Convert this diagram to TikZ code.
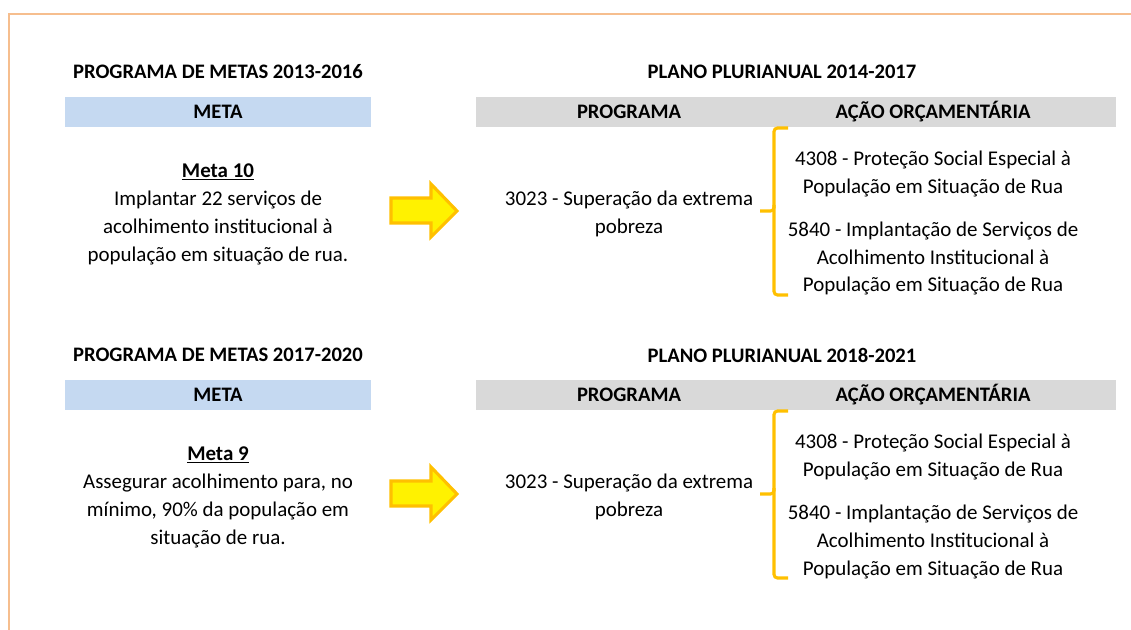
\documentclass[tikz,border=0pt]{standalone}
\usepackage{fontspec}
\setmainfont{Carlito}
\usepackage{tikz}
\definecolor{moldura}{RGB}{246,190,142}
\definecolor{azulmeta}{RGB}{197,217,241}
\definecolor{cinzappa}{RGB}{217,217,217}
\definecolor{ouro}{RGB}{255,192,0}
\tikzset{
  txt/.style={font=\fontsize{14.9}{19.9}\selectfont, align=center, inner sep=0pt},
  titulo/.style={font=\fontsize{14.65}{19.9}\selectfont\bfseries, inner sep=0pt},
  seta/.style={fill=yellow, draw=ouro, line width=2.2pt, line join=miter},
  chave/.style={draw=ouro, line width=2.2pt, rounded corners=2.5pt}
}

\begin{document}
\begin{tikzpicture}[x=0.025cm,y=-0.025cm]
        \useasboundingbox (0,0) rectangle (1131,630);
        \draw[moldura,line width=1.3pt] (9,630)--(9,14)--(1131,14);
        % bloco 2013-2016
        \node[titulo] (pm1) at (218,72) {PROGRAMA DE METAS 2013-2016};
        \fill[azulmeta] (65,97) rectangle (371,127);
        \node[titulo] (meta1) at (218,112) {META};
        \node[txt] (m1) at (218,214) {\underline{\textbf{Meta 10}}\\Implantar 22 serviços de\\acolhimento institucional à\\população em situação de rua.};
        \draw[seta] (391,198)--(431,198)--(431,184)--(457,211)--(431,237)--(431,223)--(391,223)--cycle;
        \node[titulo] (ppa1) at (782,72) {PLANO PLURIANUAL 2014-2017};
        \fill[cinzappa] (476,97) rectangle (1116,127);
        \node[titulo] (prog1) at (629,112) {PROGRAMA};
        \node[titulo] (acao1) at (933,112) {AÇÃO ORÇAMENTÁRIA};
        \node[txt] (p1) at (629,214) {3023 - Superação da extrema\\pobreza};
        \draw[chave] (788,128)-|(774,211)--(760,211);
        \draw[chave] (774,205)|-(788,295);
        \node[txt] (a11) at (933,173.5) {4308 - Proteção Social Especial à\\População em Situação de Rua};
        \node[txt] (a12) at (933,258.5) {5840 - Implantação de Serviços de\\Acolhimento Institucional à\\População em Situação de Rua};
        % bloco 2017-2020
        \node[titulo] (pm2) at (218,355) {PROGRAMA DE METAS 2017-2020};
        \fill[azulmeta] (65,380) rectangle (371,410);
        \node[titulo] (meta2) at (218,395) {META};
        \node[txt] (m2) at (218,497) {\underline{\textbf{Meta 9}}\\Assegurar acolhimento para, no\\mínimo, 90\% da população em\\situação de rua.};
        \draw[seta] (391,481)--(431,481)--(431,467)--(457,494)--(431,520)--(431,506)--(391,506)--cycle;
        \node[titulo] (ppa2) at (782,355) {PLANO PLURIANUAL 2018-2021};
        \fill[cinzappa] (476,380) rectangle (1116,410);
        \node[titulo] (prog2) at (629,395) {PROGRAMA};
        \node[titulo] (acao2) at (933,395) {AÇÃO ORÇAMENTÁRIA};
        \node[txt] (p2) at (629,497) {3023 - Superação da extrema\\pobreza};
        \draw[chave] (788,411)-|(774,494)--(760,494);
        \draw[chave] (774,488)|-(788,578);
        \node[txt] (a21) at (933,456.5) {4308 - Proteção Social Especial à\\População em Situação de Rua};
        \node[txt] (a22) at (933,541.5) {5840 - Implantação de Serviços de\\Acolhimento Institucional à\\População em Situação de Rua};
\end{tikzpicture}
\end{document}
